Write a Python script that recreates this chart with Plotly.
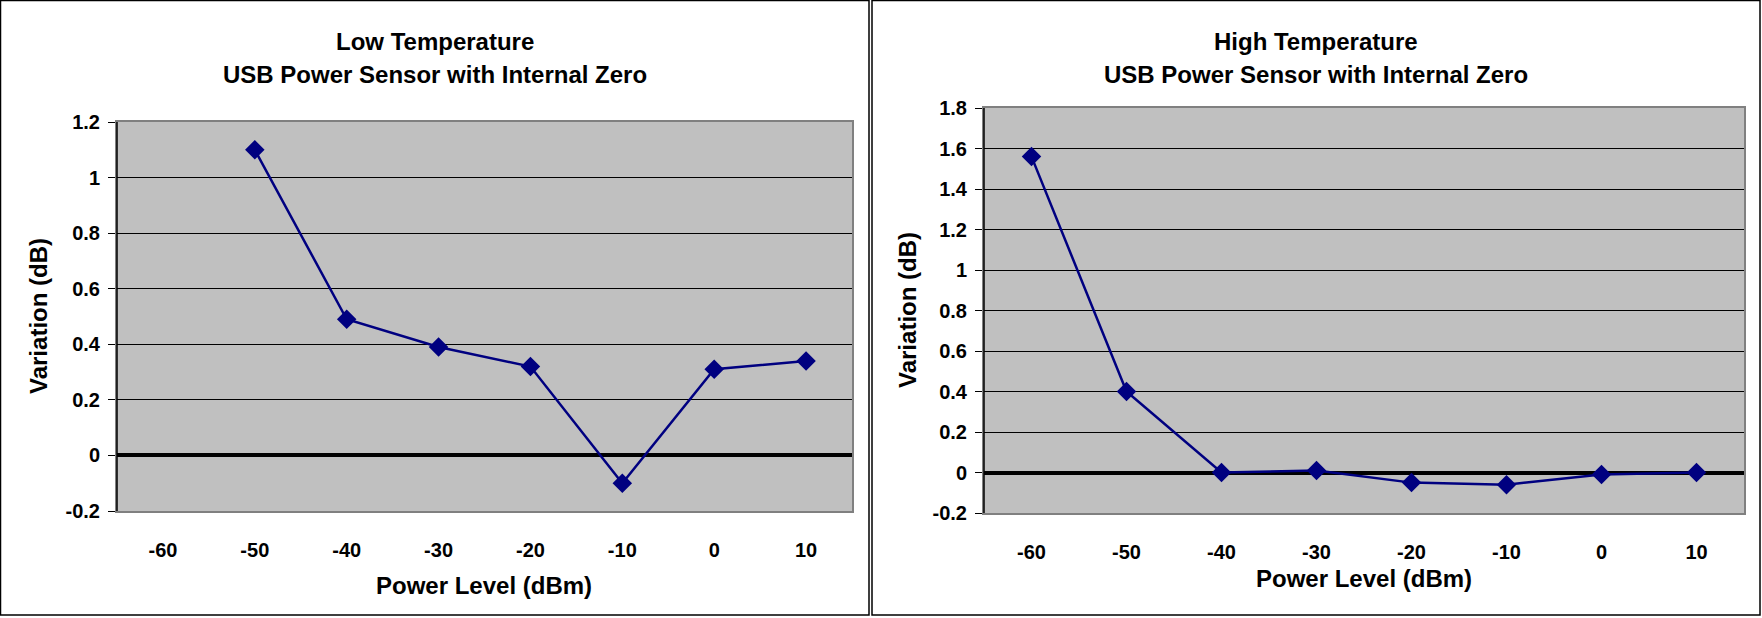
import plotly.graph_objects as go

W, H = 1762, 618

# data
power_levels = ["-60", "-50", "-40", "-30", "-20", "-10", "0", "10"]
low_temp_var = [None, 1.10, 0.49, 0.39, 0.32, -0.10, 0.31, 0.34]
high_temp_var = [1.56, 0.40, 0.00, 0.01, -0.05, -0.06, -0.01, 0.00]

low_ticks = [-0.2, 0, 0.2, 0.4, 0.6, 0.8, 1.0, 1.2]
low_tick_text = ["-0.2", "0", "0.2", "0.4", "0.6", "0.8", "1", "1.2"]
high_ticks = [-0.2, 0, 0.2, 0.4, 0.6, 0.8, 1.0, 1.2, 1.4, 1.6, 1.8]
high_tick_text = ["-0.2", "0", "0.2", "0.4", "0.6", "0.8", "1", "1.2", "1.4", "1.6", "1.8"]

title_top = ["Low Temperature", "High Temperature"]
title_sub = "USB Power Sensor with Internal Zero"
x_title = "Power Level (dBm)"
y_title = "Variation (dB)"

NAVY = "#000080"
FONT = "Liberation Sans, Arial, sans-serif"


def px(x):
    return x / W


def py(y):
    return 1 - y / H


fig = go.Figure()

for name, vals, xa, ya in [("low", low_temp_var, "x", "y"), ("high", high_temp_var, "x2", "y2")]:
    fig.add_trace(go.Scatter(
        x=power_levels, y=vals, xaxis=xa, yaxis=ya, name=name,
        mode="lines+markers",
        line=dict(color=NAVY, width=2.5),
        marker=dict(symbol="diamond", size=15, color=NAVY),
        showlegend=False,
    ))


def axis_style(domain, anchor):
    return dict(domain=domain, anchor=anchor, showline=True, linecolor="#808080", linewidth=2,
                mirror=True, automargin=False,
                tickfont=dict(family=FONT, size=20, color="black", weight="bold"))


xcommon = dict(type="category", categoryorder="array", categoryarray=power_levels,
               showgrid=False, ticks="", ticklabelstandoff=20, range=[-0.5, 7.5])

fig.update_layout(
    width=W, height=H,
    margin=dict(l=0, r=0, t=0, b=0, pad=0, autoexpand=False),
    paper_bgcolor="white",
    plot_bgcolor="#C0C0C0",
    xaxis=dict(**axis_style([px(117), px(852)], "y"), **xcommon),
    xaxis2=dict(**axis_style([px(984), px(1744)], "y2"), **xcommon),
    yaxis=dict(**axis_style([py(511), py(122)], "x"), range=[-0.2, 1.2],
               tickvals=low_ticks, ticktext=low_tick_text,
               ticks="outside", ticklen=7, tickcolor="black", ticklabelstandoff=4,
               gridcolor="black", gridwidth=1,
               zeroline=True, zerolinecolor="black", zerolinewidth=4),
    yaxis2=dict(**axis_style([py(513), py(108)], "x2"), range=[-0.2, 1.8],
                tickvals=high_ticks, ticktext=high_tick_text,
                ticks="outside", ticklen=7, tickcolor="black", ticklabelstandoff=4,
                gridcolor="black", gridwidth=1,
                zeroline=True, zerolinecolor="black", zerolinewidth=4),
)

# black left axis lines over the grey plot frame
for x_left, y_bot, y_top in [(117, 511, 122), (984, 513, 108)]:
    fig.add_shape(type="line", xref="paper", yref="paper",
                  x0=px(x_left), x1=px(x_left), y0=py(y_bot), y1=py(y_top),
                  line=dict(color="black", width=1.5))

# chart frames
for x0, x1 in [(0.5, 869), (872, 1760)]:
    fig.add_shape(type="rect", xref="paper", yref="paper",
                  x0=px(x0), x1=px(x1), y0=py(615), y1=py(0.5),
                  line=dict(color="black", width=1.5), layer="above")

title_font = dict(family=FONT, size=24, color="black", weight="bold")
panels = [
    dict(cx=434.5, xt=484, xt_y=585, yt_x=38, yt_y=316),
    dict(cx=1316, xt=1364, xt_y=578, yt_x=907, yt_y=310),
]
for i, p in enumerate(panels):
    fig.add_annotation(text=title_top[i], x=px(p["cx"]), y=py(42), xref="paper", yref="paper",
                       showarrow=False, font=title_font, xanchor="center", yanchor="middle")
    fig.add_annotation(text=title_sub, x=px(p["cx"]), y=py(74), xref="paper", yref="paper",
                       showarrow=False, font=title_font, xanchor="center", yanchor="middle")
    fig.add_annotation(text=x_title, x=px(p["xt"]), y=py(p["xt_y"]), xref="paper", yref="paper",
                       showarrow=False, font=title_font, xanchor="center", yanchor="middle")
    fig.add_annotation(text=y_title, x=px(p["yt_x"]), y=py(p["yt_y"]), xref="paper", yref="paper",
                       showarrow=False, font=title_font, textangle=-90,
                       xanchor="center", yanchor="middle")

fig.write_html("out.html", config={"displayModeBar": False},
               post_script="document.body.style.margin='0px';")
